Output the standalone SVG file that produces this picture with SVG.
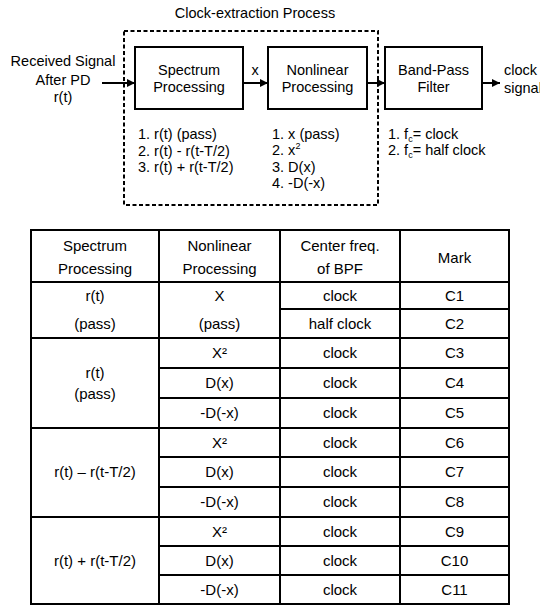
<svg xmlns="http://www.w3.org/2000/svg" width="540" height="607" viewBox="0 0 540 607">
<defs>
<style>
text{font-family:"Liberation Sans",Arial,sans-serif;font-size:14.5px;fill:#000}
.c{text-anchor:middle}
.t{font-size:15px}
.box{fill:#fff;stroke:#000;stroke-width:2}
.ln{stroke:#000;stroke-width:2;fill:none}
.tl{stroke:#000;stroke-width:2;fill:none}
.dash{fill:none;stroke:#000;stroke-width:2;stroke-dasharray:4 2.5}
</style>
<marker id="ah" viewBox="0 0 10 10" refX="10" refY="5" markerWidth="4" markerHeight="4" orient="auto" markerUnits="strokeWidth">
<path d="M0,0 L10,5 L0,10 z" fill="#000"/>
</marker>
</defs>
<rect width="540" height="607" fill="#fff"/>
<text id="title" class="c" x="255" y="18">Clock-extraction Process</text>
<rect id="process-frame" class="dash" x="124" y="31" width="254" height="174"/>
<g id="input">
<text class="c" x="63" y="66">Received Signal</text>
<text class="c" x="63" y="85">After PD</text>
<text class="c" x="63" y="102">r(t)</text>
</g>
<g id="spectrum">
<rect class="box" x="135" y="47" width="108" height="62"/>
<text class="c" x="189" y="75">Spectrum</text>
<text class="c" x="189" y="92">Processing</text>
</g>
<g id="nonlinear">
<rect class="box" x="268" y="47" width="99" height="62"/>
<text class="c" x="317.5" y="75">Nonlinear</text>
<text class="c" x="317.5" y="92">Processing</text>
</g>
<g id="bpf">
<rect class="box" x="385" y="47" width="97" height="62"/>
<text class="c" x="433.5" y="75">Band-Pass</text>
<text class="c" x="433.5" y="92">Filter</text>
</g>
<g id="output">
<text x="504" y="75">clock</text>
<text x="504" y="93">signal</text>
</g>
<g id="connectors">
<line class="ln" x1="102" y1="83" x2="135" y2="83" marker-end="url(#ah)"/>
<line class="ln" x1="243" y1="83" x2="268" y2="83" marker-end="url(#ah)"/>
<line class="ln" x1="367" y1="83" x2="385" y2="83" marker-end="url(#ah)"/>
<line class="ln" x1="482" y1="83" x2="500" y2="83" marker-end="url(#ah)"/>
<text class="c" x="255" y="75">x</text>
</g>
<g id="spectrum-options">
<text x="138" y="139">1. r(t) (pass)</text>
<text x="138" y="156">2. r(t) - r(t-T/2)</text>
<text x="138" y="172">3. r(t) + r(t-T/2)</text>
</g>
<g id="nonlinear-options">
<text x="272" y="139">1. x (pass)</text>
<text x="272" y="155">2. x<tspan font-size="9" dy="-6">2</tspan></text>
<text x="272" y="172">3. D(x)</text>
<text x="272" y="188">4. -D(-x)</text>
</g>
<g id="bpf-options">
<text x="388" y="139">1. f<tspan font-size="9" dy="3">c</tspan><tspan dy="-3">= clock</tspan></text>
<text x="388" y="155">2. f<tspan font-size="9" dy="3">c</tspan><tspan dy="-3">= half clock</tspan></text>
</g>
<g id="table">
<rect class="tl" x="31" y="230" width="478" height="374" stroke-width="2.5"/>
<path class="tl" d="M159,230V604M280,230V604M400,230V604M31,282H509M280,309H509M31,338H509M159,368H509M159,398H509M31,428H509M159,457H509M159,487H509M31,517H509M159,546H509M159,575H509"/>
<g class="t">
<text class="c t" x="95" y="251">Spectrum</text>
<text class="c t" x="95" y="274">Processing</text>
<text class="c t" x="219.5" y="251">Nonlinear</text>
<text class="c t" x="219.5" y="274">Processing</text>
<text class="c t" x="340" y="251">Center freq.</text>
<text class="c t" x="340" y="274">of BPF</text>
<text class="c t" x="454.5" y="263">Mark</text>

<text class="c t" x="95" y="301">r(t)</text>
<text class="c t" x="95" y="329">(pass)</text>
<text class="c t" x="219.5" y="301">X</text>
<text class="c t" x="219.5" y="329">(pass)</text>
<text class="c t" x="340" y="301">clock</text>
<text class="c t" x="454.5" y="301">C1</text>
<text class="c t" x="340" y="329">half clock</text>
<text class="c t" x="454.5" y="329">C2</text>

<text class="c t" x="95" y="378">r(t)</text>
<text class="c t" x="95" y="399">(pass)</text>
<text class="c t" x="219.5" y="358">X²</text>
<text class="c t" x="340" y="358">clock</text>
<text class="c t" x="454.5" y="358">C3</text>
<text class="c t" x="219.5" y="388">D(x)</text>
<text class="c t" x="340" y="388">clock</text>
<text class="c t" x="454.5" y="388">C4</text>
<text class="c t" x="219.5" y="418">-D(-x)</text>
<text class="c t" x="340" y="418">clock</text>
<text class="c t" x="454.5" y="418">C5</text>

<text class="c t" x="95" y="477">r(t) – r(t-T/2)</text>
<text class="c t" x="219.5" y="447.5">X²</text>
<text class="c t" x="340" y="447.5">clock</text>
<text class="c t" x="454.5" y="447.5">C6</text>
<text class="c t" x="219.5" y="477">D(x)</text>
<text class="c t" x="340" y="477">clock</text>
<text class="c t" x="454.5" y="477">C7</text>
<text class="c t" x="219.5" y="507">-D(-x)</text>
<text class="c t" x="340" y="507">clock</text>
<text class="c t" x="454.5" y="507">C8</text>

<text class="c t" x="95" y="566">r(t) + r(t-T/2)</text>
<text class="c t" x="219.5" y="536.5">X²</text>
<text class="c t" x="340" y="536.5">clock</text>
<text class="c t" x="454.5" y="536.5">C9</text>
<text class="c t" x="219.5" y="565.5">D(x)</text>
<text class="c t" x="340" y="565.5">clock</text>
<text class="c t" x="454.5" y="565.5">C10</text>
<text class="c t" x="219.5" y="594.5">-D(-x)</text>
<text class="c t" x="340" y="594.5">clock</text>
<text class="c t" x="454.5" y="594.5">C11</text>
</g>
</g>
</svg>
